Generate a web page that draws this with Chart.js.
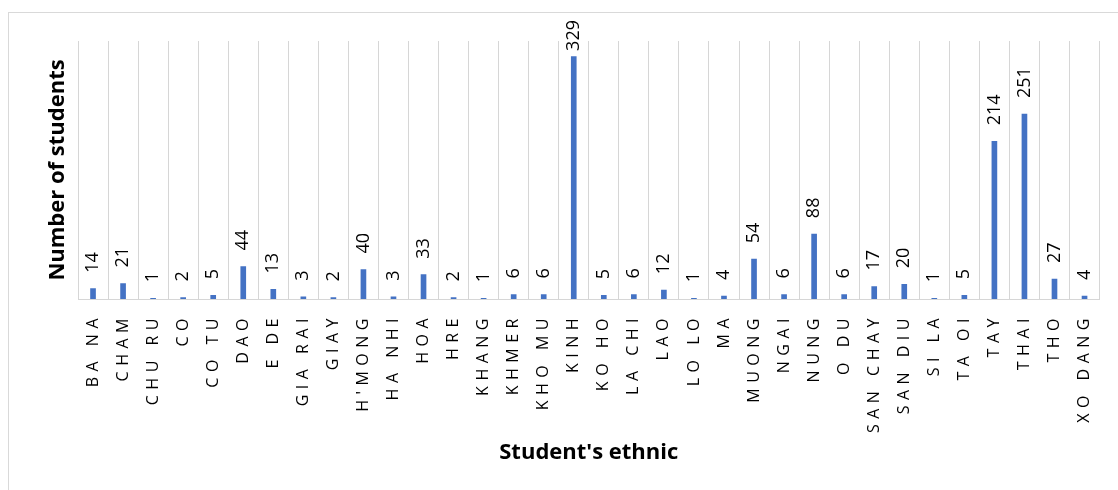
<!DOCTYPE html>
<html>
<head>
<meta charset="utf-8">
<script src="https://cdn.jsdelivr.net/npm/chart.js@4"></script>
<style>
  html, body { margin: 0; padding: 0; background: #fff; overflow: hidden; }
  #wrap { position: relative; width: 1118px; height: 490px; }
  #frame { position: absolute; left: 8px; top: 12px; width: 1200px; height: 600px; border: 1px solid #d9d9d9; box-sizing: border-box; }
  #myChart { position: absolute; left: 0; top: 0; }
</style>
</head>
<body>
<div id="wrap">
  <div id="frame"></div>
  <canvas id="myChart" width="1118" height="490"></canvas>
</div>
<script>
// Chart data
const ethnics = ["BA NA", "CHAM", "CHU RU", "CO", "CO TU", "DAO", "E DE", "GIA RAI", "GIAY", "H'MONG",
  "HA NHI", "HOA", "HRE", "KHANG", "KHMER", "KHO MU", "KINH", "KO HO", "LA CHI", "LAO",
  "LO LO", "MA", "MUONG", "NGAI", "NUNG", "O DU", "SAN CHAY", "SAN DIU", "SI LA", "TA OI",
  "TAY", "THAI", "THO", "XO DANG"];
const students = [14, 21, 1, 2, 5, 44, 13, 3, 2, 40,
  3, 33, 2, 1, 6, 6, 329, 5, 6, 12,
  1, 4, 54, 6, 88, 6, 17, 20, 1, 5,
  214, 251, 27, 4];
const yTitle = "Number of students";
const xTitle = "Student's ethnic";

const ctx = document.getElementById("myChart");

// value labels above bars, then letter spacing for the category ticks
let barLabels = {
  id: "barLabels",
  beforeDraw: (chart) => {
    chart.ctx.letterSpacing = "0px";
  },
  afterDatasetsDraw: (chart) => {
    const c = chart.ctx;
    const meta = chart.getDatasetMeta(0);
    c.save();
    c.font = "18px 'Open Sans'";
    c.fillStyle = "#000";
    c.textAlign = "left";
    c.textBaseline = "middle";
    meta.data.forEach((bar, i) => {
      const txt = String(chart.data.datasets[0].data[i]);
      const w = c.measureText(txt).width;
      let y = bar.y - 16;
      if (y - w < 20) y = 20 + w;
      c.save();
      c.translate(bar.x, y);
      c.rotate(-Math.PI / 2);
      c.fillText(txt, 0, 0);
      c.restore();
    });
    c.restore();
    c.letterSpacing = "5.5px";
  },
  afterDraw: (chart) => {
    chart.ctx.letterSpacing = "0px";
  },
};

const data = {
  labels: ethnics,
  datasets: [
    {
      data: students,
      backgroundColor: "#4472C4",
      barThickness: 5,
    },
  ],
};

const options = {
  responsive: false,
  animation: false,
  layout: {
    padding: { left: 45, top: 41, right: 18, bottom: 24 },
  },
  plugins: {
    legend: { display: false },
    tooltip: { enabled: false },
  },
  scales: {
    x: {
      grid: { color: "#d6d6d6", drawTicks: false, offset: true },
      border: { color: "#d6d6d6" },
      ticks: {
        z: 1,
        color: "#000",
        font: { family: "'Open Sans'", size: 16 },
        minRotation: 90,
        maxRotation: 90,
        autoSkip: false,
        padding: 14,
      },
      title: {
        display: true,
        text: xTitle,
        color: "#000",
        font: { family: "'Open Sans'", size: 22, weight: "bold" },
        padding: 0,
      },
      afterFit: (scale) => {
        scale.height = 167;
      },
    },
    y: {
      min: 0,
      max: 350,
      grid: { display: false },
      border: { display: false },
      ticks: { display: false },
      title: {
        display: true,
        text: yTitle,
        color: "#000",
        font: { family: "'Open Sans'", size: 22, weight: "bold" },
        padding: 0,
      },
      afterFit: (scale) => {
        scale.width = 33;
      },
    },
  },
};

new Chart(ctx, {
  type: "bar",
  data,
  options,
  plugins: [barLabels],
});
</script>
</body>
</html>
